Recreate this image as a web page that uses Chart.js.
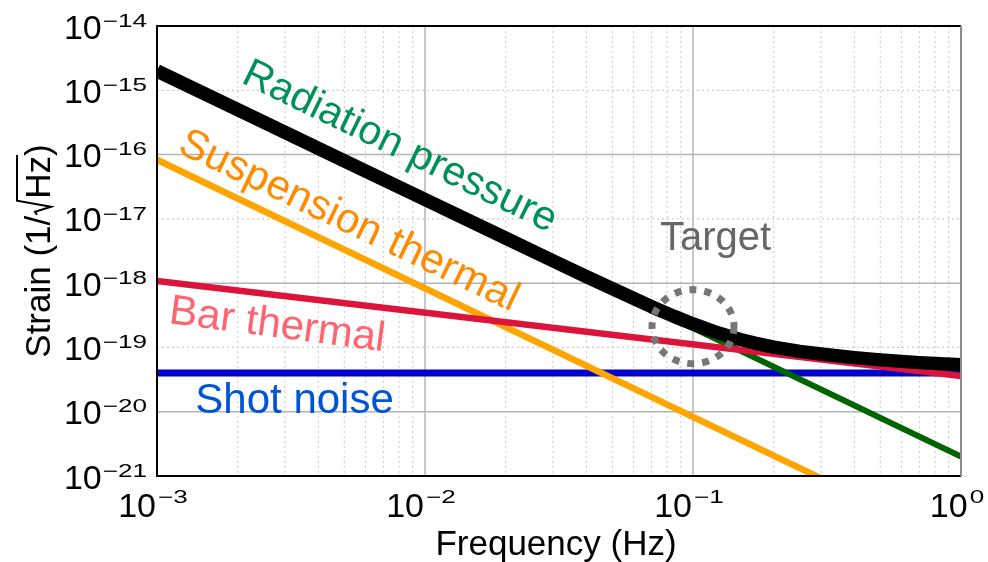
<!DOCTYPE html>
<html><head><meta charset="utf-8">
<script src="https://cdn.jsdelivr.net/npm/chart.js@4/dist/chart.umd.min.js"></script>
<style>html,body{margin:0;padding:0;background:#fff}#wrap{width:988px;height:562px;position:relative}</style>
</head><body><div id="wrap"><canvas id="c"></canvas></div>
<script>
// ---- data ----
const freqTotal   = [0.001, 0.002, 0.005, 0.01, 0.02, 0.03, 0.04, 0.05, 0.07, 0.085, 0.1, 0.12, 0.15, 0.17, 0.2, 0.25, 0.3, 0.4, 0.5, 0.7, 1.0];
const strainTotal = [2.0e-15, 5.0e-16, 8.0e-17, 2.0e-17, 5.0e-18, 2.23e-18, 1.26e-18, 8.2e-19, 4.3e-19, 3.04e-19, 2.32e-19, 1.76e-19, 1.33e-19, 1.17e-19, 1.01e-19, 8.67e-20, 7.9e-20, 6.94e-20, 6.4e-20, 5.8e-20, 5.37e-20];
const freqRad     = [0.001, 1.0];
const strainRad   = [2.0e-15, 2.0e-21];
const freqSusp    = [0.001, 1.0];
const strainSusp  = [8.3e-17, 8.3e-23];
const freqBar     = [0.001, 1.0];
const strainBar   = [1.08e-18, 3.6e-20];
const freqShot    = [0.001, 1.0];
const strainShot  = [4.0e-20, 4.0e-20];
const targetFreq  = 0.1;
const targetStrain = 2.1e-19;

const xTickExponents = [-3, -2, -1, 0];
const yTickExponents = [-14, -15, -16, -17, -18, -19, -20, -21];
const ySolidGridExponents = [-16, -18, -20];
const minorMultipliers = [2, 3, 4, 5, 6, 7, 8, 9];

const FONT = '"Liberation Sans", Arial, Helvetica, sans-serif';

function pts(xs, ys) { return xs.map((x, i) => ({ x: x, y: ys[i] })); }

const curveLabels = [
  { text: 'Radiation pressure', f: 2.04e-3, s: 1.35e-15, rot: 26, size: 41, color: '#00915a' },
  { text: 'Suspension thermal', f: 1.18e-3, s: 1.1e-16, rot: 25.5, size: 42, color: '#ff8c00' },
  { text: 'Bar thermal', f: 1.10e-3, s: 2.4e-19, rot: 7.5, size: 42, color: '#ff6470' },
  { text: 'Shot noise', f: 1.39e-3, s: 9.5e-21, rot: 0, size: 42, color: '#0055d4' },
  { text: 'Target', f: 0.0753, s: 3.28e-18, rot: 0, size: 40, color: '#666666' }
];

const drawPlugin = {
  id: 'drawExtras',
  beforeDatasetsDraw(chart) {
    const ctx = chart.ctx, xs = chart.scales.x, ys = chart.scales.y, a = chart.chartArea;
    ctx.save();
    // vertical grid
    for (let e = -3; e < 0; e++) {
      for (const m of minorMultipliers) {
        const px = xs.getPixelForValue(m * Math.pow(10, e));
        ctx.beginPath(); ctx.setLineDash([2, 3]); ctx.lineWidth = 1.2; ctx.strokeStyle = '#d2d2d2';
        ctx.moveTo(px, a.top); ctx.lineTo(px, a.bottom); ctx.stroke();
      }
      if (e > -3) {
        const px = xs.getPixelForValue(Math.pow(10, e));
        ctx.beginPath(); ctx.setLineDash([]); ctx.lineWidth = 1.5; ctx.strokeStyle = '#b4b4b4';
        ctx.moveTo(px, a.top); ctx.lineTo(px, a.bottom); ctx.stroke();
      }
    }
    // horizontal grid
    for (const e of yTickExponents) {
      const py = ys.getPixelForValue(Math.pow(10, e));
      if (py <= a.top + 1 || py >= a.bottom - 1) continue;
      ctx.beginPath();
      if (ySolidGridExponents.includes(e)) { ctx.setLineDash([]); ctx.lineWidth = 1.5; ctx.strokeStyle = '#b4b4b4'; }
      else { ctx.setLineDash([2, 3]); ctx.lineWidth = 1.2; ctx.strokeStyle = '#cccccc'; }
      ctx.moveTo(a.left, py); ctx.lineTo(a.right, py); ctx.stroke();
    }
    ctx.restore();
  },
  afterDatasetsDraw(chart) {
    const ctx = chart.ctx, xs = chart.scales.x, ys = chart.scales.y, a = chart.chartArea;
    ctx.save();
    // frame
    ctx.setLineDash([]);
    ctx.lineWidth = 2; ctx.strokeStyle = '#000';
    ctx.beginPath();
    ctx.moveTo(a.right, a.top); ctx.lineTo(a.left, a.top); ctx.lineTo(a.left, a.bottom); ctx.lineTo(a.right, a.bottom);
    ctx.stroke();
    ctx.strokeStyle = '#8a8a8a';
    ctx.beginPath(); ctx.moveTo(a.right, a.top); ctx.lineTo(a.right, a.bottom); ctx.stroke();

    // target dotted circle
    const cx = xs.getPixelForValue(targetFreq), cy = ys.getPixelForValue(targetStrain);
    ctx.beginPath(); ctx.setLineDash([7, 8]); ctx.lineWidth = 7; ctx.strokeStyle = '#777';
    ctx.ellipse(cx, cy, 41, 37, 0, 0, Math.PI * 2); ctx.stroke();
    ctx.setLineDash([]);

    // curve labels
    for (const L of curveLabels) {
      const px = xs.getPixelForValue(L.f), py = ys.getPixelForValue(L.s);
      ctx.save(); ctx.translate(px, py); ctx.rotate(L.rot * Math.PI / 180);
      ctx.font = L.size + 'px ' + FONT; ctx.fillStyle = L.color;
      ctx.textAlign = 'left'; ctx.textBaseline = 'alphabetic';
      ctx.fillText(L.text, 0, 0); ctx.restore();
    }

    // tick labels
    const BASE = '34px ' + FONT, EXP = '18px ' + FONT, SX = 1.45;
    ctx.fillStyle = '#000'; ctx.textBaseline = 'alphabetic';
    for (const e of yTickExponents) {
      const y = ys.getPixelForValue(Math.pow(10, e));
      const es = (e < 0 ? '\u2212' : '') + Math.abs(e);
      ctx.font = EXP; const ew = ctx.measureText(es).width * SX;
      const right = 147;
      ctx.save(); ctx.translate(right - ew, y + 0.7); ctx.scale(SX, 1); ctx.textAlign = 'left'; ctx.fillText(es, 0, 0); ctx.restore();
      ctx.font = BASE; ctx.textAlign = 'right'; ctx.fillText('10', right - ew - 1, y + 12.5);
    }
    for (const e of xTickExponents) {
      const x = xs.getPixelForValue(Math.pow(10, e));
      const es = (e < 0 ? '\u2212' : '') + Math.abs(e);
      ctx.font = EXP; const ew = ctx.measureText(es).width * SX;
      ctx.font = BASE; const w10 = ctx.measureText('10').width;
      const left = x - 4 - (w10 + ew + 2) / 2;
      ctx.textAlign = 'left'; ctx.fillText('10', left, 517);
      ctx.save(); ctx.font = EXP; ctx.translate(left + w10 + 2, 503); ctx.scale(SX, 1); ctx.fillText(es, 0, 0); ctx.restore();
    }

    // axis titles
    ctx.font = '35px ' + FONT; ctx.textAlign = 'center'; ctx.fillStyle = '#000';
    ctx.fillText('Frequency (Hz)', (a.left + a.right) / 2 - 3, 555);

    ctx.save(); ctx.translate(50, (a.top + a.bottom) / 2); ctx.rotate(-Math.PI / 2);
    ctx.font = '35px ' + FONT; ctx.textAlign = 'left';
    const p1 = 'Strain (1/', p2 = 'Hz', p3 = ')';
    const w1 = ctx.measureText(p1).width, w2 = ctx.measureText(p2).width, w3 = ctx.measureText(p3).width;
    const rw = 17, total = w1 + rw + w2 + w3;
    let u = -total / 2;
    ctx.fillText(p1, u, 0); u += w1;
    ctx.beginPath(); ctx.lineWidth = 2; ctx.strokeStyle = '#000'; ctx.lineJoin = 'miter';
    ctx.moveTo(u + 1, -13); ctx.lineTo(u + 4, -15); ctx.lineTo(u + 9, 1); ctx.lineTo(u + 15, -33); ctx.lineTo(u + rw + w2 + 1, -33);
    ctx.stroke();
    u += rw; ctx.fillText(p2, u, 0); u += w2; ctx.fillText(p3, u, 0);
    ctx.restore();

    ctx.restore();
  }
};

const common = { pointRadius: 0, pointHoverRadius: 0, tension: 0, fill: false, borderCapStyle: 'butt', borderJoinStyle: 'round', clip: 0 };

new Chart(document.getElementById('c'), {
  type: 'line',
  data: {
    datasets: [
      Object.assign({ label: 'Total', data: pts(freqTotal, strainTotal), borderColor: '#000000', borderWidth: 13.5 }, common),
      Object.assign({ label: 'Bar thermal', data: pts(freqBar, strainBar), borderColor: '#dc143c', borderWidth: 6.5 }, common),
      Object.assign({ label: 'Radiation pressure', data: pts(freqRad, strainRad), borderColor: '#006400', borderWidth: 6 }, common),
      Object.assign({ label: 'Suspension thermal', data: pts(freqSusp, strainSusp), borderColor: '#ffa500', borderWidth: 6.5 }, common),
      Object.assign({ label: 'Shot noise', data: pts(freqShot, strainShot), borderColor: '#0000cd', borderWidth: 7 }, common)
    ]
  },
  options: {
    responsive: true, maintainAspectRatio: false, animation: false,
    layout: { padding: { left: 157, right: 27, top: 26, bottom: 86 } },
    plugins: { legend: { display: false }, tooltip: { enabled: false } },
    events: [],
    scales: {
      x: { type: 'logarithmic', min: 0.001, max: 1, display: false },
      y: { type: 'logarithmic', min: 1e-21, max: 1e-14, display: false }
    }
  },
  plugins: [drawPlugin]
});
</script>
</body></html>
